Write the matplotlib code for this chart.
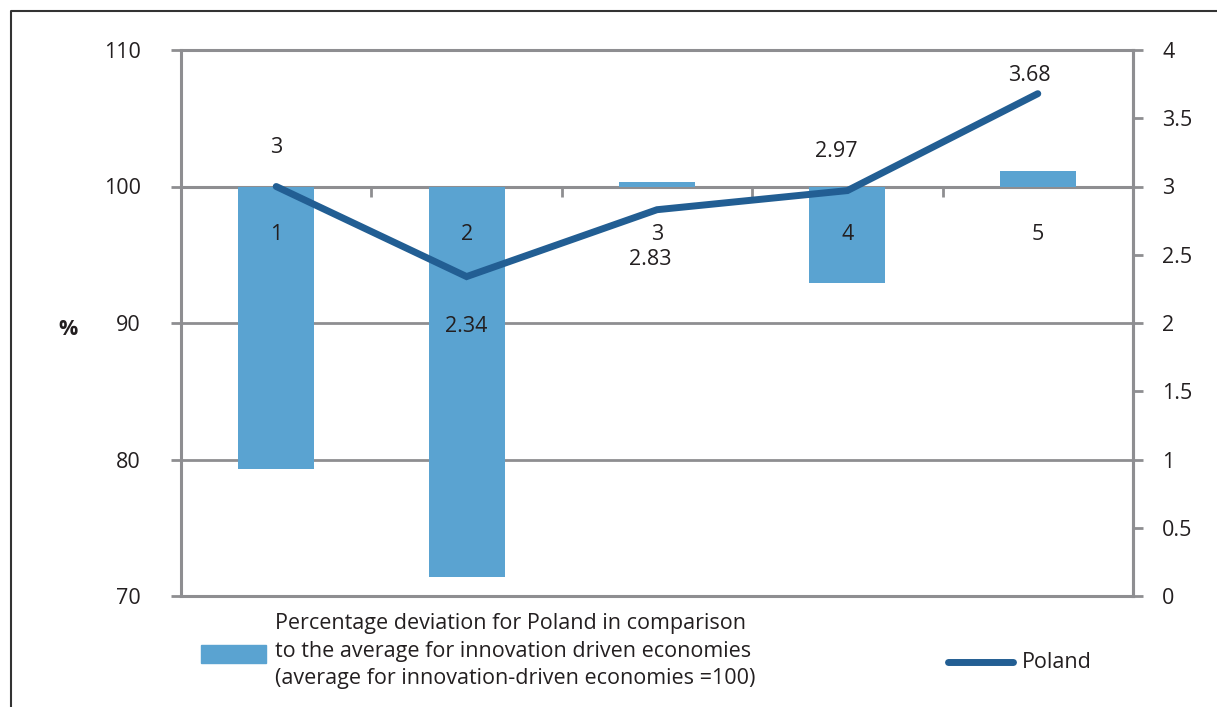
import matplotlib
matplotlib.use("Agg")
import matplotlib.pyplot as plt
from matplotlib.patches import Rectangle
from matplotlib.lines import Line2D

# ---- data ----
categories = ["1", "2", "3", "4", "5"]
deviation_pct = [79.3, 71.4, 100.35, 92.9, 101.1]   # index, innovation-driven average = 100
poland = [3.00, 2.34, 2.83, 2.97, 3.68]
poland_labels = ["3", "2.34", "2.83", "2.97", "3.68"]
left_ticks = [70, 80, 90, 100, 110]
right_ticks = [0, 0.5, 1, 1.5, 2, 2.5, 3, 3.5, 4]
right_tick_labels = ["0", "0.5", "1", "1.5", "2", "2.5", "3", "3.5", "4"]
bar_legend = ("Percentage deviation for Poland in comparison\n"
              "to the average for innovation driven economies\n"
              "(average for innovation-driven economies =100)")
line_legend = "Poland"

# ---- style ----
BAR = "#5AA3D1"
LINE = "#225E93"
GRAY = "#8E8E91"
TXT = "#231F20"
FS = 15.5
plt.rcParams["font.family"] = ["Open Sans", "DejaVu Sans"]
plt.rcParams["text.color"] = TXT

W, H = 1217, 707
fig = plt.figure(figsize=(W / 100, H / 100), dpi=100)
ax = fig.add_axes([181 / W, 1 - 596 / H, (1133 - 181) / W, (596 - 50) / H])
ax2 = ax.twinx()

x = list(range(len(categories)))
base = 100
ax.bar(x, [v - base for v in deviation_pct], bottom=base, width=0.4,
       color=BAR, zorder=3)

ax.set_xlim(-0.5, len(categories) - 0.5)
ax.set_ylim(70, 110)
ax.set_yticks(left_ticks)
ax.set_yticklabels([str(t) for t in left_ticks], fontsize=FS, color=TXT)
ax.tick_params(axis="y", direction="out", length=7, width=2, color=GRAY, pad=22)
ax.yaxis.grid(True, color=GRAY, linewidth=2, zorder=1)
ax.set_axisbelow(True)

# category axis crosses at 100; its labels sit on top of the bars
ax.spines["bottom"].set_position(("data", base))
ax.spines["bottom"].set_zorder(2)
ax.set_xticks(x)
ax.set_xticklabels(categories, fontsize=FS, color=TXT)
ax.set_xticks([i + 0.5 for i in x[:-1]], minor=True)
ax.tick_params(axis="x", which="major", length=0, pad=27)
ax.tick_params(axis="x", which="minor", direction="out", length=7, width=2, color=GRAY)
ax.xaxis.set_zorder(4)
ax.axhline(70, color=GRAY, linewidth=2.2, clip_on=False, zorder=2)
for s in ["left", "top", "right", "bottom"]:
    ax.spines[s].set_color(GRAY)
    ax.spines[s].set_linewidth(2.2)

ax.text(-0.119, 0.489, "%", transform=ax.transAxes, fontsize=FS, fontweight="bold",
        ha="center", va="center")

# Poland line on the secondary axis
ax2.plot(x, poland, color=LINE, linewidth=5, solid_capstyle="round",
         solid_joinstyle="miter", zorder=4)
ax2.set_ylim(0, 4)
ax2.set_yticks(right_ticks)
ax2.set_yticklabels(right_tick_labels, fontsize=FS, color=TXT)
ax2.tick_params(axis="y", direction="out", length=7, width=2, color=GRAY, pad=14)
for s in ["left", "top", "bottom"]:
    ax2.spines[s].set_visible(False)
ax2.spines["right"].set_color(GRAY)
ax2.spines["right"].set_linewidth(2.2)

label_offsets = [(0, 28), (0, -36), (-5, -36), (-8, 28), (-6, 13)]
for xi, yi, lab, off in zip(x, poland, poland_labels, label_offsets):
    ax2.annotate(lab, (xi, yi), xytext=off, textcoords="offset points",
                 ha="center", va="center", fontsize=FS, color=TXT)

# ---- legend ----
def fx(px):
    return px / W

def fy(py):
    return 1 - py / H

fig.patches.append(Rectangle((fx(201), fy(663)), fx(266) - fx(201), fy(645) - fy(663),
                             transform=fig.transFigure, color=BAR))
fig.text(fx(275), fy(651), bar_legend, fontsize=FS, ha="left", va="center",
         linespacing=1.4)
fig.lines.append(Line2D([fx(948), fx(1013)], [fy(662), fy(662)], transform=fig.transFigure,
                        color=LINE, linewidth=5, solid_capstyle="round"))
fig.text(fx(1022), fy(662), line_legend, fontsize=FS, ha="left", va="center")

# outer frame
fig.lines.append(Line2D([fx(11), fx(11), fx(W)], [fy(H), fy(11), fy(11)],
                        transform=fig.transFigure, color="#333333", linewidth=1.5))

fig.savefig("out.png", dpi=100)
